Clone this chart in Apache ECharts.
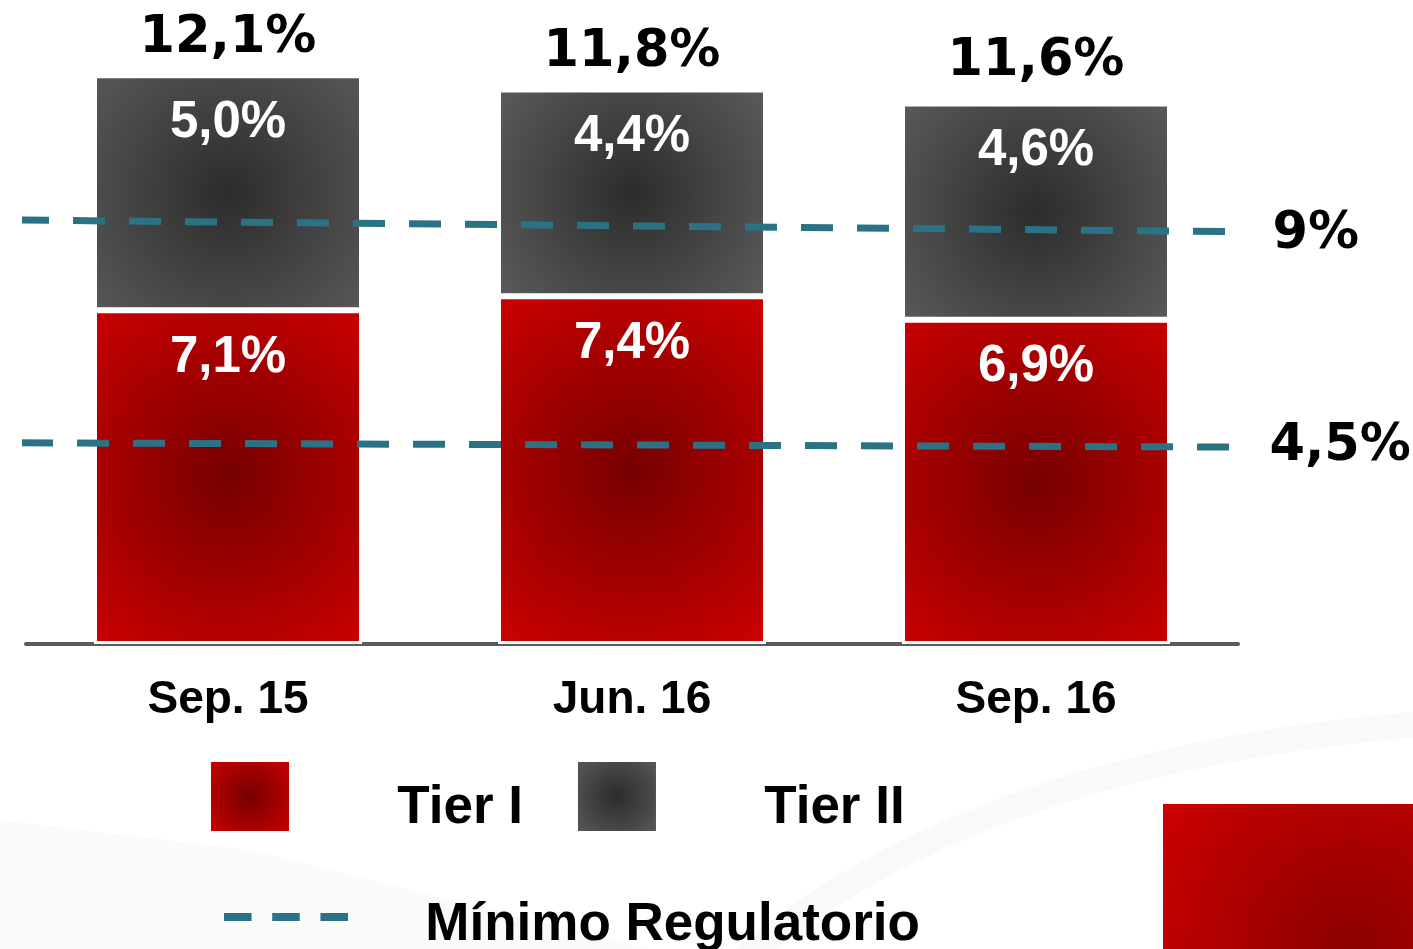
<!DOCTYPE html>
<html>
<head>
<meta charset="utf-8">
<script src="https://cdn.jsdelivr.net/npm/echarts@6/dist/echarts.min.js"></script>
<style>
html,body{margin:0;padding:0;background:#fff;}
#main{width:1413px;height:949px;}
</style>
</head>
<body>
<div id="main"></div>
<script>
// ---- data ----
const categories = ['Sep. 15', 'Jun. 16', 'Sep. 16'];
const tier1 = [7.1, 7.4, 6.9];
const tier2 = [5.0, 4.4, 4.6];
const totals = [12.1, 11.8, 11.6];
const minLabels = ['9%', '4,5%'];
// regulatory minimum lines: [x% of plot width, value] at start and end
const minLineStart = [[-0.74, 9.02], [-0.41, 4.28]];
const minLineEnd = [[101.57, 8.77], [99.34, 4.19]];

const fmt = v => v.toFixed(1).replace('.', ',') + '%';

const redGrad = {type:'radial', x:0.5, y:0.5, r:0.8, colorStops:[{offset:0,color:'#760000'},{offset:1,color:'#cc0000'}]};
const greyGrad = {type:'radial', x:0.5, y:0.5, r:0.8, colorStops:[{offset:0,color:'#2c2c2c'},{offset:1,color:'#5a5a5a'}]};
const teal = '#2b7286';

const chart = echarts.init(document.getElementById('main'));

const insideLabel = {
  show: true, position: 'insideTop', distance: 22,
  color: '#fff', fontSize: 51, lineHeight: 51, fontWeight: 'bold', fontFamily: 'Liberation Sans',
  formatter: p => fmt(p.value)
};

const endLabelStyle = [{distance: 15, dy: 3}, {distance: 39, dy: 0}];
const lineSeries = minLabels.map((lab, i) => ({
  name: 'Mínimo Regulatorio', type: 'line', xAxisIndex: 1, yAxisIndex: 0,
  clip: false, z: 5, symbol: 'circle', symbolSize: 1,
  itemStyle: {color: 'rgba(0,0,0,0)'},
  lineStyle: {color: teal, width: 7, type: [32, 24], cap: 'butt'},
  emphasis: {disabled: true},
  data: [
    {value: minLineStart[i]},
    {value: minLineEnd[i], label: {show: true, position: 'right', distance: endLabelStyle[i].distance, offset: [0, endLabelStyle[i].dy],
      formatter: () => lab, color: '#000', fontSize: 51, fontWeight: 'bold', fontFamily: 'DejaVu Sans'}}
  ]
}));

const legendText = (spacer) => ({
  padding: 0,
  rich: {
    s: {fontSize: 1, lineHeight: spacer},
    t: {fontSize: 53, lineHeight: 60, fontWeight: 'bold', fontFamily: 'Liberation Sans', color: '#000', verticalAlign: 'bottom'}
  }
});

const option = {
  backgroundColor: '#fff',
  animation: false,
  graphic: [
    {type: 'polygon', z: -10, silent: true,
      shape: {points: [[0, 820], [250, 850], [650, 949], [0, 949]]},
      style: {fill: 'rgba(0,0,0,0.02)', shadowBlur: 50, shadowColor: 'rgba(0,0,0,0.05)'}},
    {type: 'bezierCurve', z: -10, silent: true,
      shape: {x1: 720, y1: 980, cpx1: 950, cpy1: 765, x2: 1413, y2: 725},
      style: {stroke: 'rgba(0,0,0,0.025)', lineWidth: 26, fill: null, shadowBlur: 30, shadowColor: 'rgba(0,0,0,0.06)'}},
    {type: 'rect', z: 10, silent: true,
      shape: {x: 1163, y: 804, width: 250, height: 145},
      style: {fill: {type:'radial', x:0.75, y:1.0, r:1.6, colorStops:[{offset:0,color:'#8a0000'},{offset:1,color:'#cc0000'}]}}}
  ],
  legend: [
    {
      left: 211, top: 762, padding: 0, itemWidth: 78, itemHeight: 69, itemGap: 55, icon: 'rect',
      selectedMode: false,
      itemStyle: {borderWidth: 0},
      formatter: name => '{s| }{t|' + name + '}',
      textStyle: Object.assign(legendText(76), {padding: [0, 0, 0, 103]}),
      data: ['Tier I', 'Tier II']
    },
    {
      left: 224, top: 899, padding: 0, itemWidth: 124, itemHeight: 8,
      selectedMode: false,
      itemStyle: {borderWidth: 0},
      formatter: name => '{s| }{t|' + name + '}',
      textStyle: Object.assign(legendText(70), {padding: [0, 0, 0, 72]}),
      data: [{name: 'Mínimo Regulatorio', icon: 'path://M0,0H28V8H0Z M49,0H77V8H49Z M98,0H126V8H98Z', itemStyle: {color: teal, borderWidth: 0}}]
    }
  ],
  grid: {left: 26, right: 1413 - 1238, top: 33, height: 611},
  xAxis: [
    {type: 'category', data: categories, gridIndex: 0,
      axisLine: {show: true, lineStyle: {color: '#5b5b5b', width: 4}},
      axisTick: {show: false},
      axisLabel: {margin: 33, color: '#000', fontSize: 46, lineHeight: 46, fontWeight: 'bold', fontFamily: 'Liberation Sans'}},
    {type: 'value', min: 0, max: 100, show: false, gridIndex: 0}
  ],
  yAxis: {type: 'value', min: 0, max: 13, show: false, splitLine: {show: false}},
  series: [
    {name: 'Tier I', type: 'bar', stack: 'cap', barWidth: 268, data: tier1,
      itemStyle: {color: redGrad, borderColor: '#fff', borderWidth: 3},
      label: insideLabel, emphasis: {disabled: true}},
    {name: 'Tier II', type: 'bar', stack: 'cap', barWidth: 268, data: tier2,
      itemStyle: {color: greyGrad, borderColor: '#fff', borderWidth: 3},
      label: insideLabel, emphasis: {disabled: true}},
    {name: 'Total', type: 'scatter', data: totals, symbolSize: 1, itemStyle: {color: 'rgba(0,0,0,0)', opacity: 1},
      z: 6, emphasis: {disabled: true},
      label: {show: true, position: 'top', distance: 11, formatter: p => fmt(p.value),
        color: '#000', opacity: 1, fontSize: 51, lineHeight: 51, fontWeight: 'bold', fontFamily: 'DejaVu Sans'}},
    ...lineSeries
  ]
};
chart.setOption(option);
</script>
</body>
</html>
